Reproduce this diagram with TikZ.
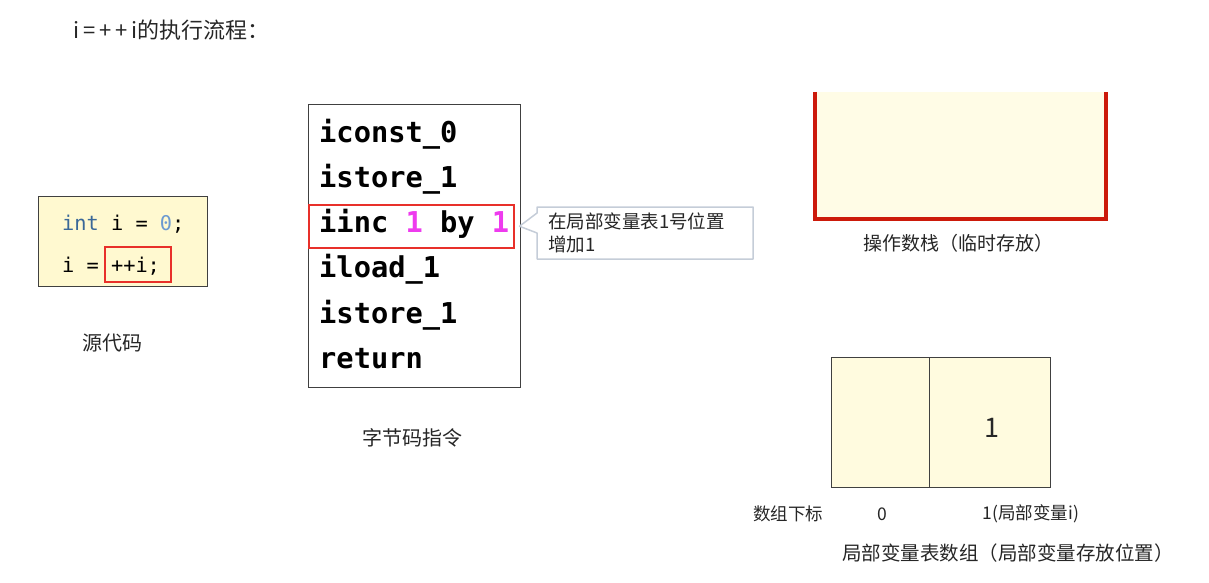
\documentclass[tikz,border=0pt]{standalone}
\usepackage{fontspec}
\setmainfont{Noto Sans CJK SC}
\setmonofont{DejaVu Sans Mono}
\usetikzlibrary{positioning}

\definecolor{boxgray}{HTML}{404040}
\definecolor{codeyellow}{HTML}{FFF9D0}
\definecolor{kwblue}{HTML}{3A6898}
\definecolor{numblue}{HTML}{6C9AD0}
\definecolor{hlred}{HTML}{E8302A}
\definecolor{pinkone}{HTML}{EE3BEE}
\definecolor{tipgray}{HTML}{C5CDD8}
\definecolor{stackyellow}{HTML}{FFFCE6}
\definecolor{stackred}{HTML}{CC1A0A}
\definecolor{tblyellow}{HTML}{FFFBDF}

\tikzset{
  lbl/.style={inner sep=0pt, text=black!85, font=\fontsize{20}{24}\selectfont},
  code/.style={inner sep=0pt, anchor=base west, font=\ttfamily\fontsize{20.3}{24}\selectfont},
  bc/.style={inner sep=0pt, anchor=base west, font=\ttfamily\bfseries\fontsize{28.7}{34}\selectfont},
  hl/.style={draw=hlred, line width=1.5pt, inner sep=0pt, anchor=north west},
  frame/.style={draw=boxgray, line width=1.2pt, inner sep=0pt, anchor=north west}
}

\begin{document}
\begin{tikzpicture}[x=1pt,y=-1pt]
\useasboundingbox (0,0) rectangle (1209,583);

\node[lbl, anchor=west, font=\fontsize{22}{26}\selectfont] (title) at (73,30)
  {i\hspace{4pt}=\hspace{4pt}+\hspace{4pt}+\hspace{4pt}i的执行流程：};

%source code
\node[frame, fill=codeyellow, minimum width=169, minimum height=90] (src) at (38,196) {};
\node[code] (c1) at (62,230) {\textcolor{kwblue}{int} i = \textcolor{numblue}{0};};
\node[code] (c2) at (62,272) {i = ++i;};
\node[hl, minimum width=66, minimum height=35] (inc) at (104,246) {};
\node[lbl] (srccap) at (112,343) {源代码};

%bytecode
\node[frame, fill=white, minimum width=212, minimum height=283] (bcbox) at (308,104) {};
\foreach \txt [count=\i] in {iconst\_0, istore\_1, {iinc \textcolor{pinkone}{1} by \textcolor{pinkone}{1}}, iload\_1, istore\_1, return}
  \node[bc] (b\i) at (319, 97+45.2*\i) {\txt};
\node[hl, minimum width=205, minimum height=43] (hlb) at (308,204) {};
\node[lbl] (bccap) at (412,438) {字节码指令};

%note
\coordinate (tip) at ([xshift=5pt]hlb.east);
\draw[tipgray, line width=1.5pt, fill=white, line join=round]
  (537,207) -- (753,207) -- (753,259) -- (537,259) -- (537,233) -- (tip) -- (537,213) -- cycle;
\node[lbl, anchor=base west, font=\fontsize{18.5}{23}\selectfont] (note1) at (548,228) {在局部变量表1号位置};
\node[lbl, anchor=base west, font=\fontsize{18.5}{23}\selectfont] (note2) at (548,251) {增加1};

%operand stack
\node[fill=stackyellow, inner sep=0pt, anchor=north west, minimum width=291, minimum height=127] (stack) at (815,92) {};
\draw[stackred, line width=4pt, line join=miter]
  (stack.north west) -- (stack.south west) -- (stack.south east) -- (stack.north east);
\node[lbl, font=\fontsize{19}{23}\selectfont] (stackcap) at (958,243) {操作数栈（临时存放）};

%local variable table
\node[frame, fill=tblyellow, minimum width=98, minimum height=130] (slot0) at (831,357) {};
\node[frame, fill=tblyellow, minimum width=121, minimum height=130] (slot1) at (929,357) {};
\node[lbl, font=\fontsize{27}{30}\selectfont] (val1) at (992,428) {1};
\node[lbl, font=\fontsize{17.5}{21}\selectfont] (idx) at (788,514) {数组下标};
\node[lbl, font=\fontsize{17.5}{21}\selectfont] (idx0) at (882,514) {0};
\node[lbl, font=\fontsize{17.5}{21}\selectfont] (idx1) at (1031,514) {1(局部变量i)};
\node[lbl, font=\fontsize{19.5}{23}\selectfont] (tblcap) at (1008,553) {局部变量表数组（局部变量存放位置）};
\end{tikzpicture}
\end{document}
